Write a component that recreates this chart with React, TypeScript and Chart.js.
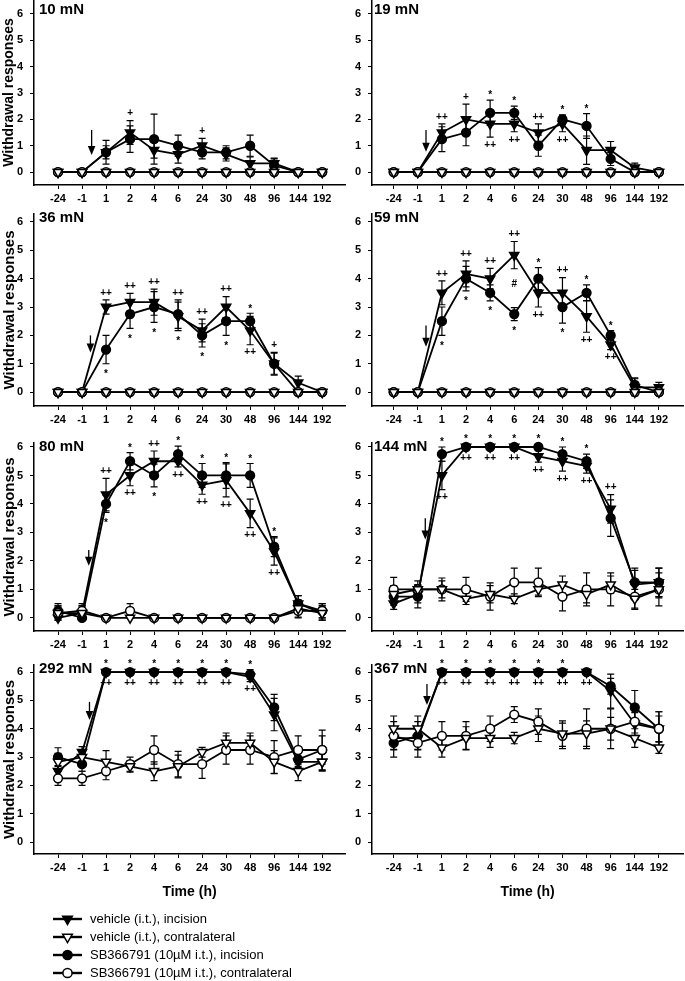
import React, { useEffect, useRef } from 'react';
import { Chart, registerables } from 'chart.js';
Chart.register(...registerables);
Chart.defaults.color = '#000';

const FONT = '"Liberation Sans", Arial, Helvetica, sans-serif';

const timeLabels = ['-24', '-1', '1', '2', '4', '6', '24', '30', '48', '96', '144', '192'];
const yTickValues = [0, 1, 2, 3, 4, 5, 6];
const legendLabels = [
  'vehicle (i.t.), incision',
  'vehicle (i.t.), contralateral',
  'SB366791 (10µM i.t.), incision',
  'SB366791 (10µM i.t.), contralateral',
];
const legendKinds = ['triF', 'triO', 'cirF', 'cirO'];

// ---------- 10 mN ----------
const p10VInc = [0, 0, 0.75, 1.5, 0.83, 0.67, 1.0, 0.67, 0.33, 0.33, 0, 0];
const p10VIncE = [0, 0, 0.25, 0.45, 0.3, 0.33, 0.28, 0.25, 0.25, 0.2, 0, 0];
const p10SInc = [0, 0, 0.75, 1.25, 1.25, 1.0, 0.75, 0.75, 1.0, 0.25, 0, 0];
const p10SIncE = [0, 0, 0.45, 0.5, 0.95, 0.4, 0.25, 0.25, 0.4, 0.25, 0, 0];
const p10VCon = [0, 0, 0, 0, 0, 0, 0, 0, 0, 0, 0, 0];
const p10VConE = [0, 0, 0, 0, 0, 0, 0, 0, 0, 0, 0, 0];
const p10SCon = [0, 0, 0, 0, 0, 0, 0, 0, 0, 0, 0, 0];
const p10SConE = [0, 0, 0, 0, 0, 0, 0, 0, 0, 0, 0, 0];
const p10Notes = [[3, '+', 'a'], [6, '+', 'a']];
const p10Arrow = [1.4, 1.6, 0.65];

// ---------- 19 mN ----------
const p19VInc = [0, 0, 1.5, 2.0, 1.83, 1.83, 1.5, 1.83, 0.83, 0.83, 0.17, 0];
const p19VIncE = [0, 0, 0.33, 0.58, 0.5, 0.3, 0.33, 0.3, 0.54, 0.33, 0.17, 0];
const p19SInc = [0, 0, 1.25, 1.5, 2.25, 2.25, 1.0, 2.0, 1.75, 0.5, 0, 0];
const p19SIncE = [0, 0, 0.47, 0.5, 0.48, 0.25, 0.4, 0.17, 0.47, 0.25, 0, 0];
const p19VCon = [0, 0, 0, 0, 0, 0, 0, 0, 0, 0, 0, 0];
const p19VConE = [0, 0, 0, 0, 0, 0, 0, 0, 0, 0, 0, 0];
const p19SCon = [0, 0, 0, 0, 0, 0, 0, 0, 0, 0, 0, 0];
const p19SConE = [0, 0, 0, 0, 0, 0, 0, 0, 0, 0, 0, 0];
const p19Notes = [
  [2, '++', 'a'], [3, '+', 'a'], [4, '*', 'a'], [4, '++', 'b'], [5, '*', 'a'], [5, '++', 'b'],
  [6, '++', 'a'], [7, '*', 'a'], [7, '++', 'b'], [8, '*', 'a'],
];
const p19Arrow = [1.34, 1.6, 0.77];

// ---------- 36 mN ----------
const p36VInc = [0, 0, 3.0, 3.17, 3.17, 2.67, 2.17, 3.0, 2.17, 1.0, 0.33, 0];
const p36VIncE = [0, 0, 0.25, 0.31, 0.46, 0.5, 0.4, 0.37, 0.5, 0.4, 0.23, 0];
const p36SInc = [0, 0, 1.5, 2.75, 3.0, 2.75, 2.0, 2.5, 2.5, 1.0, 0, 0];
const p36SIncE = [0, 0, 0.5, 0.5, 0.54, 0.5, 0.41, 0.5, 0.28, 0.37, 0, 0];
const p36VCon = [0, 0, 0, 0, 0, 0, 0, 0, 0, 0, 0, 0];
const p36VConE = [0, 0, 0, 0, 0, 0, 0, 0, 0, 0, 0, 0];
const p36SCon = [0, 0, 0, 0, 0, 0, 0, 0, 0, 0, 0, 0];
const p36SConE = [0, 0, 0, 0, 0, 0, 0, 0, 0, 0, 0, 0];
const p36Notes = [
  [2, '++', 'a'], [2, '*', 'b'], [3, '++', 'a'], [3, '*', 'b'], [4, '++', 'a'], [4, '*', 'b'],
  [5, '++', 'a'], [5, '*', 'b'], [6, '++', 'a'], [6, '*', 'b'], [7, '++', 'a'], [7, '*', 'b'],
  [8, '*', 'a'], [8, '++', 'b'], [9, '+', 'a'],
];
const p36Arrow = [1.35, 2.0, 1.4];

// ---------- 59 mN ----------
const p59VInc = [0, 0, 3.5, 4.17, 4.0, 4.83, 3.5, 3.5, 2.67, 1.67, 0.17, 0.17];
const p59VIncE = [0, 0, 0.42, 0.46, 0.36, 0.48, 0.5, 0.54, 0.56, 0.17, 0.3, 0.17];
const p59SInc = [0, 0, 2.5, 4.0, 3.5, 2.75, 4.0, 3.0, 3.5, 2.0, 0.25, 0];
const p59SIncE = [0, 0, 0.5, 0.43, 0.28, 0.23, 0.39, 0.57, 0.28, 0.17, 0.25, 0];
const p59VCon = [0, 0, 0, 0, 0, 0, 0, 0, 0, 0, 0, 0];
const p59VConE = [0, 0, 0, 0, 0, 0, 0, 0, 0, 0, 0, 0];
const p59SCon = [0, 0, 0, 0, 0, 0, 0, 0, 0, 0, 0, 0];
const p59SConE = [0, 0, 0, 0, 0, 0, 0, 0, 0, 0, 0, 0];
const p59Notes = [
  [2, '++', 'a'], [2, '*', 'b'], [3, '++', 'a'], [3, '*', 'b'], [4, '++', 'a'], [4, '*', 'b'],
  [5, '++', 'a'], [5, '#', 'm'], [5, '*', 'b'], [6, '*', 'a'], [6, '++', 'b'], [7, '++', 'a'],
  [7, '*', 'b'], [8, '*', 'a'], [8, '++', 'b'], [9, '*', 'a'], [9, '++', 'b'],
];
const p59Arrow = [1.34, 2.35, 1.6];

// ---------- 80 mN ----------
const p80VInc = [0, 0.17, 4.33, 5.0, 5.5, 5.5, 4.67, 4.83, 3.67, 2.33, 0.5, 0.17];
const p80VIncE = [0, 0.25, 0.57, 0.36, 0.36, 0.2, 0.33, 0.58, 0.5, 0.48, 0.28, 0.25];
const p80SInc = [0.25, 0, 4.0, 5.5, 5.0, 5.75, 5.0, 5.0, 5.0, 2.5, 0.5, 0.25];
const p80SIncE = [0.25, 0, 0.3, 0.3, 0.4, 0.28, 0.42, 0.45, 0.42, 0.35, 0.28, 0.25];
const p80VCon = [0.17, 0.17, 0, 0, 0, 0, 0, 0, 0, 0, 0.33, 0.17];
const p80VConE = [0.25, 0.25, 0, 0, 0, 0, 0, 0, 0, 0, 0.3, 0.25];
const p80SCon = [0.17, 0.25, 0, 0.25, 0, 0, 0, 0, 0, 0, 0.25, 0.25];
const p80SConE = [0.25, 0.25, 0, 0.25, 0, 0, 0, 0, 0, 0, 0.25, 0.25];
const p80Notes = [
  [2, '++', 'a'], [2, '*', 'b'], [3, '*', 'a'], [3, '++', 'b'], [4, '++', 'a'], [4, '*', 'b'],
  [5, '*', 'a'], [5, '++', 'b'], [6, '*', 'a'], [6, '++', 'b'], [7, '*', 'a'], [7, '++', 'b'],
  [8, '*', 'a'], [8, '++', 'b'], [9, '*', 'a'], [9, '++', 'b'],
];
const p80Arrow = [1.28, 2.38, 1.83];

// ---------- 144 mN ----------
const p144VInc = [0.5, 0.83, 5.0, 6, 6, 6, 5.67, 5.5, 5.33, 3.83, 1.17, 1.25];
const p144VIncE = [0.2, 0.3, 0.5, 0, 0, 0, 0.2, 0.35, 0.25, 0.5, 0.5, 0.5];
const p144SInc = [0.75, 0.75, 5.75, 6, 6, 6, 6, 5.75, 5.5, 3.5, 1.25, 1.25];
const p144SIncE = [0.3, 0.4, 0.25, 0, 0, 0, 0, 0.25, 0.25, 0.64, 0.5, 0.5];
const p144VCon = [0.83, 1.0, 1.0, 0.67, 0.83, 0.67, 1.0, 1.17, 0.83, 1.17, 0.67, 1.0];
const p144VConE = [0.3, 0.17, 0.3, 0.2, 0.3, 0.17, 0.2, 0.3, 0.3, 0.3, 0.33, 0.3];
const p144SCon = [1.0, 1.0, 1.0, 1.0, 0.75, 1.25, 1.25, 0.75, 1.0, 1.0, 0.75, 1.0];
const p144SConE = [0.42, 0.3, 0.4, 0.42, 0.48, 0.5, 0.5, 0.5, 0.58, 0.58, 0.45, 0.58];
const p144Notes = [
  [2, '*', 'a'], [2, '++', 'b'], [3, '*', 'a'], [3, '++', 'b'], [4, '*', 'a'], [4, '++', 'b'],
  [5, '*', 'a'], [5, '++', 'b'], [6, '*', 'a'], [6, '++', 'b'], [7, '*', 'a'], [7, '++', 'b'],
  [8, '*', 'a'], [8, '++', 'b'], [9, '++', 'a'],
];
const p144Arrow = [1.31, 3.5, 2.75];

// ---------- 292 mN ----------
const p292VInc = [2.5, 3.17, 6, 6, 6, 6, 6, 6, 5.83, 4.5, 2.83, 2.83];
const p292VIncE = [0.2, 0.2, 0, 0, 0, 0, 0, 0, 0.17, 0.57, 0.2, 0.3];
const p292SInc = [3.0, 2.75, 6, 6, 6, 6, 6, 6, 5.92, 4.75, 2.92, 3.25];
const p292SIncE = [0.33, 0.25, 0, 0, 0, 0, 0, 0, 0.17, 0.46, 0.25, 0.5];
const p292VCon = [2.83, 3.0, 2.83, 2.67, 2.5, 2.67, 3.17, 3.5, 3.5, 2.83, 2.5, 2.83];
const p292VConE = [0.3, 0.25, 0.4, 0.2, 0.33, 0.4, 0.17, 0.35, 0.35, 0.4, 0.33, 0.33];
const p292SCon = [2.25, 2.25, 2.5, 2.75, 3.25, 2.75, 2.75, 3.25, 3.25, 3.0, 3.25, 3.25];
const p292SConE = [0.25, 0.25, 0.3, 0.25, 0.5, 0.45, 0.5, 0.5, 0.5, 0.58, 0.5, 0.7];
const p292Notes = [
  [2, '*', 'a'], [2, '++', 'b'], [3, '*', 'a'], [3, '++', 'b'], [4, '*', 'a'], [4, '++', 'b'],
  [5, '*', 'a'], [5, '++', 'b'], [6, '*', 'a'], [6, '++', 'b'], [7, '*', 'a'], [7, '++', 'b'],
  [8, '*', 'a'], [8, '++', 'b'],
];
const p292Arrow = [1.31, 4.95, 4.31];

// ---------- 367 mN ----------
const p367VInc = [3.67, 3.67, 6, 6, 6, 6, 6, 6, 6, 5.33, 4.17, 4.0];
const p367VIncE = [0.4, 0.4, 0, 0, 0, 0, 0, 0, 0, 0.6, 0.4, 0.45];
const p367SInc = [3.5, 3.75, 6, 6, 6, 6, 6, 6, 6, 5.5, 4.75, 4.0];
const p367SIncE = [0.5, 0.5, 0, 0, 0, 0, 0, 0, 0, 0.28, 0.6, 0.6];
const p367VCon = [4.0, 4.0, 3.33, 3.67, 3.67, 3.67, 4.0, 3.83, 3.83, 4.0, 3.67, 3.33];
const p367VConE = [0.45, 0.45, 0.33, 0.4, 0.33, 0.2, 0.45, 0.45, 0.45, 0.7, 0.33, 0.2];
const p367SCon = [3.75, 3.5, 3.75, 3.75, 4.0, 4.5, 4.25, 3.75, 4.0, 4.0, 4.25, 4.0];
const p367SConE = [0.5, 0.5, 0.5, 0.5, 0.45, 0.28, 0.45, 0.45, 0.7, 0.4, 0.4, 0.6];
const p367Notes = [
  [2, '*', 'a'], [2, '++', 'b'], [3, '*', 'a'], [3, '++', 'b'], [4, '*', 'a'], [4, '++', 'b'],
  [5, '*', 'a'], [5, '++', 'b'], [6, '*', 'a'], [6, '++', 'b'], [7, '*', 'a'], [7, '++', 'b'],
  [8, '++', 'b'],
];
const p367Arrow = [1.38, 5.58, 4.84];

const panels = [
  { label: '10 mN', vInc: p10VInc, vIncE: p10VIncE, sInc: p10SInc, sIncE: p10SIncE, vCon: p10VCon, vConE: p10VConE, sCon: p10SCon, sConE: p10SConE, notes: p10Notes, arrow: p10Arrow },
  { label: '19 mN', vInc: p19VInc, vIncE: p19VIncE, sInc: p19SInc, sIncE: p19SIncE, vCon: p19VCon, vConE: p19VConE, sCon: p19SCon, sConE: p19SConE, notes: p19Notes, arrow: p19Arrow },
  { label: '36 mN', vInc: p36VInc, vIncE: p36VIncE, sInc: p36SInc, sIncE: p36SIncE, vCon: p36VCon, vConE: p36VConE, sCon: p36SCon, sConE: p36SConE, notes: p36Notes, arrow: p36Arrow },
  { label: '59 mN', vInc: p59VInc, vIncE: p59VIncE, sInc: p59SInc, sIncE: p59SIncE, vCon: p59VCon, vConE: p59VConE, sCon: p59SCon, sConE: p59SConE, notes: p59Notes, arrow: p59Arrow },
  { label: '80 mN', vInc: p80VInc, vIncE: p80VIncE, sInc: p80SInc, sIncE: p80SIncE, vCon: p80VCon, vConE: p80VConE, sCon: p80SCon, sConE: p80SConE, notes: p80Notes, arrow: p80Arrow },
  { label: '144 mN', vInc: p144VInc, vIncE: p144VIncE, sInc: p144SInc, sIncE: p144SIncE, vCon: p144VCon, vConE: p144VConE, sCon: p144SCon, sConE: p144SConE, notes: p144Notes, arrow: p144Arrow },
  { label: '292 mN', vInc: p292VInc, vIncE: p292VIncE, sInc: p292SInc, sIncE: p292SIncE, vCon: p292VCon, vConE: p292VConE, sCon: p292SCon, sConE: p292SConE, notes: p292Notes, arrow: p292Arrow },
  { label: '367 mN', vInc: p367VInc, vIncE: p367VIncE, sInc: p367SInc, sIncE: p367SIncE, vCon: p367VCon, vConE: p367VConE, sCon: p367SCon, sConE: p367SConE, notes: p367Notes, arrow: p367Arrow },
];

// layout (pixels); canvases overlap slightly (transparent backgrounds)
const rowsCfg = [
  { top: 0, height: 212, padTop: 0, padBottom: 0, yMin: -0.49, yMax: 6.53, xAxisH: 27, labelDy: 10, titleSize: 14 },
  { top: 204, height: 232, padTop: 10, padBottom: 0, yMin: -0.49, yMax: 6.28, xAxisH: 30, labelDy: 3.5, titleSize: 15 },
  { top: 428, height: 232, padTop: 15, padBottom: 0, yMin: -0.46, yMax: 6.14, xAxisH: 29, labelDy: 4, titleSize: 15 },
  { top: 652, height: 329, padTop: 13, padBottom: 77, yMin: -0.42, yMax: 6.25, xAxisH: 50, labelDy: 4, titleSize: 15 },
];
const colsCfg = [
  { left: 0, width: 346, yAxisW: 34, padRight: 1, xMin: -1, xMax: 11.95, labelDx: 5 },
  { left: 346, width: 339, yAxisW: 26, padRight: 2, xMin: -0.9, xMax: 12.0, labelDx: 2 },
];

function drawMarker(ctx: CanvasRenderingContext2D, kind: string, x: number, y: number) {
  ctx.save();
  ctx.lineWidth = 1.5;
  ctx.strokeStyle = '#000';
  ctx.fillStyle = kind.endsWith('F') ? '#000' : '#fff';
  ctx.beginPath();
  if (kind.startsWith('tri')) {
    const r = 5.6;
    ctx.moveTo(x - r * 0.866, y - r * 0.5);
    ctx.lineTo(x + r * 0.866, y - r * 0.5);
    ctx.lineTo(x, y + r);
    ctx.closePath();
  } else {
    ctx.arc(x, y, 4.6, 0, Math.PI * 2);
  }
  ctx.fill();
  ctx.stroke();
  ctx.restore();
}

function PanelChart({ index }: { index: number }) {
  const ref = useRef<HTMLCanvasElement>(null);
  const p = panels[index];
  const row = rowsCfg[Math.floor(index / 2)];
  const col = colsCfg[index % 2];
  const isLeft = index % 2 === 0;
  const isBottom = index >= 6;
  const showLegend = index === 6;

  useEffect(() => {
    const mk = (vals: number[], errs: number[], style: any) => ({
      data: vals.map((v, i) => ({ x: i, y: v })),
      vals,
      errs,
      borderColor: '#000',
      borderWidth: 1.8,
      pointBorderColor: '#000',
      pointBorderWidth: 1.5,
      tension: 0,
      clip: false,
      ...style,
    });
    const tri = { pointStyle: 'triangle', pointRotation: 180, pointRadius: 5.3 };
    const cir = { pointStyle: 'circle', pointRadius: 4.4 };
    const datasets = [
      mk(p.vCon, p.vConE, { ...tri, pointBackgroundColor: '#fff', label: legendLabels[1] }),
      mk(p.sCon, p.sConE, { ...cir, pointBackgroundColor: '#fff', label: legendLabels[3] }),
      mk(p.vInc, p.vIncE, { ...tri, pointBackgroundColor: '#000', label: legendLabels[0] }),
      mk(p.sInc, p.sIncE, { ...cir, pointBackgroundColor: '#000', label: legendLabels[2] }),
    ];

    const plugin = {
      id: 'panelExtras',
      beforeDatasetsDraw(chart: any) {
        const ctx = chart.ctx;
        const xs = chart.scales.x;
        const ys = chart.scales.y;
        ctx.save();
        ctx.strokeStyle = '#000';
        ctx.lineWidth = 1.2;
        chart.data.datasets.forEach((ds: any) => {
          ds.vals.forEach((v: number, i: number) => {
            const e = ds.errs[i];
            if (!e) return;
            const x = xs.getPixelForValue(i);
            const y1 = ys.getPixelForValue(v + e);
            const y2 = ys.getPixelForValue(v - e);
            ctx.beginPath();
            ctx.moveTo(x, y1);
            ctx.lineTo(x, y2);
            ctx.moveTo(x - 3.5, y1);
            ctx.lineTo(x + 3.5, y1);
            ctx.moveTo(x - 3.5, y2);
            ctx.lineTo(x + 3.5, y2);
            ctx.stroke();
          });
        });
        ctx.restore();
      },
      afterDatasetsDraw(chart: any) {
        const ctx = chart.ctx;
        const xs = chart.scales.x;
        const ys = chart.scales.y;
        ctx.save();
        // arrow
        const [ax, aTop, aTip] = p.arrow;
        const x = xs.getPixelForValue(ax);
        const yT = ys.getPixelForValue(aTop);
        const yB = ys.getPixelForValue(aTip);
        ctx.strokeStyle = '#000';
        ctx.fillStyle = '#000';
        ctx.lineWidth = 1.3;
        ctx.beginPath();
        ctx.moveTo(x, yT);
        ctx.lineTo(x, yB - 7);
        ctx.stroke();
        ctx.beginPath();
        ctx.moveTo(x - 3.8, yB - 9);
        ctx.lineTo(x + 3.8, yB - 9);
        ctx.lineTo(x, yB);
        ctx.closePath();
        ctx.fill();
        // significance marks
        ctx.font = `bold 10px ${FONT}`;
        ctx.textAlign = 'center';
        ctx.textBaseline = 'middle';
        p.notes.forEach((n: any) => {
          const [i, sym, where] = n;
          const nx = xs.getPixelForValue(i);
          const v1 = p.vInc[i], e1 = p.vIncE[i], v2 = p.sInc[i], e2 = p.sIncE[i];
          let y;
          if (where === 'a') {
            const top = Math.max(v1 + e1, v2 + e2);
            y = Math.min(ys.getPixelForValue(top) - 7, ys.getPixelForValue(Math.max(v1, v2)) - 10);
          } else if (where === 'b') {
            const bot = Math.min(v1 - e1, v2 - e2);
            y = Math.max(ys.getPixelForValue(bot) + 8, ys.getPixelForValue(Math.min(v1, v2)) + 11);
          } else {
            y = (ys.getPixelForValue(v1) + ys.getPixelForValue(v2)) / 2;
          }
          if (sym === '*') y += 2.5;
          ctx.fillText(sym, nx, y);
        });
        ctx.restore();
      },
      afterDraw(chart: any) {
        const ctx = chart.ctx;
        const area = chart.chartArea;
        ctx.save();
        ctx.fillStyle = '#000';
        ctx.font = `bold 15px ${FONT}`;
        ctx.textAlign = 'left';
        ctx.textBaseline = 'middle';
        ctx.fillText(p.label, area.left + col.labelDx, area.top + row.labelDy);
        if (showLegend) {
          const rowsY = [919, 937, 955, 973];
          ctx.font = `13px ${FONT}`;
          legendLabels.forEach((lab, k) => {
            const y = rowsY[k] - row.top;
            ctx.strokeStyle = '#000';
            ctx.lineWidth = 2.4;
            ctx.beginPath();
            ctx.moveTo(53, y);
            ctx.lineTo(82, y);
            ctx.stroke();
            drawMarker(ctx, legendKinds[k], 67.5, y);
            ctx.fillStyle = '#000';
            ctx.fillText(lab, 90, y + 0.5);
          });
        }
        ctx.restore();
      },
    };

    const chart = new Chart(ref.current as HTMLCanvasElement, {
      type: 'line',
      data: { datasets } as any,
      plugins: [plugin],
      options: {
        responsive: false,
        animation: false,
        events: [],
        layout: { autoPadding: false, padding: { top: row.padTop, right: col.padRight, bottom: row.padBottom, left: 0 } },
        plugins: { legend: { display: false }, tooltip: { enabled: false }, title: { display: false } },
        scales: {
          x: {
            type: 'linear',
            min: col.xMin,
            max: col.xMax,
            afterBuildTicks: (s: any) => {
              s.ticks = timeLabels.map((_, i) => ({ value: i }));
            },
            afterFit: (s: any) => {
              s.height = row.xAxisH;
              s.paddingLeft = 0;
              s.paddingRight = 0;
              s.paddingTop = 0;
              s.paddingBottom = 0;
            },
            ticks: {
              autoSkip: false,
              maxRotation: 0,
              padding: 3,
              color: '#000',
              font: { family: FONT, size: 11, weight: 'bold' },
              callback: (v: any) => timeLabels[Math.round(v)] ?? '',
            },
            grid: { display: true, drawOnChartArea: false, drawTicks: true, tickLength: 4, color: '#000', lineWidth: 1 },
            border: { display: true, color: '#000', width: 1.5 },
            title: {
              display: isBottom,
              text: 'Time (h)',
              color: '#000',
              font: { family: FONT, size: 14, weight: 'bold' },
              padding: { top: 4, bottom: 3 },
            },
          },
          y: {
            type: 'linear',
            min: row.yMin,
            max: row.yMax,
            afterBuildTicks: (s: any) => {
              s.ticks = yTickValues.map((v) => ({ value: v }));
            },
            afterFit: (s: any) => {
              s.width = col.yAxisW;
              s.paddingLeft = 0;
              s.paddingRight = 0;
              s.paddingTop = 0;
              s.paddingBottom = 0;
            },
            ticks: {
              padding: 7,
              color: '#000',
              font: { family: FONT, size: 11, weight: 'bold' },
              callback: (v: any) => String(v),
            },
            grid: { display: true, drawOnChartArea: false, drawTicks: true, tickLength: 4, color: '#000', lineWidth: 1 },
            border: { display: true, color: '#000', width: 1.5 },
            title: {
              display: isLeft,
              text: 'Withdrawal responses',
              color: '#000',
              font: { family: FONT, size: row.titleSize, weight: 'bold' },
              padding: { top: 1, bottom: 0 },
            },
          },
        },
      } as any,
    });
    return () => chart.destroy();
  }, []);

  return (
    <canvas
      ref={ref}
      width={col.width}
      height={row.height}
      style={{ position: 'absolute', left: col.left, top: row.top, width: col.width, height: row.height, display: 'block' }}
    />
  );
}

export default function App() {
  return (
    <div style={{ position: 'absolute', left: 0, top: 0, width: 685, height: 981, background: '#fff', overflow: 'hidden' }}>
      {panels.map((_, i) => (
        <PanelChart key={i} index={i} />
      ))}
    </div>
  );
}
